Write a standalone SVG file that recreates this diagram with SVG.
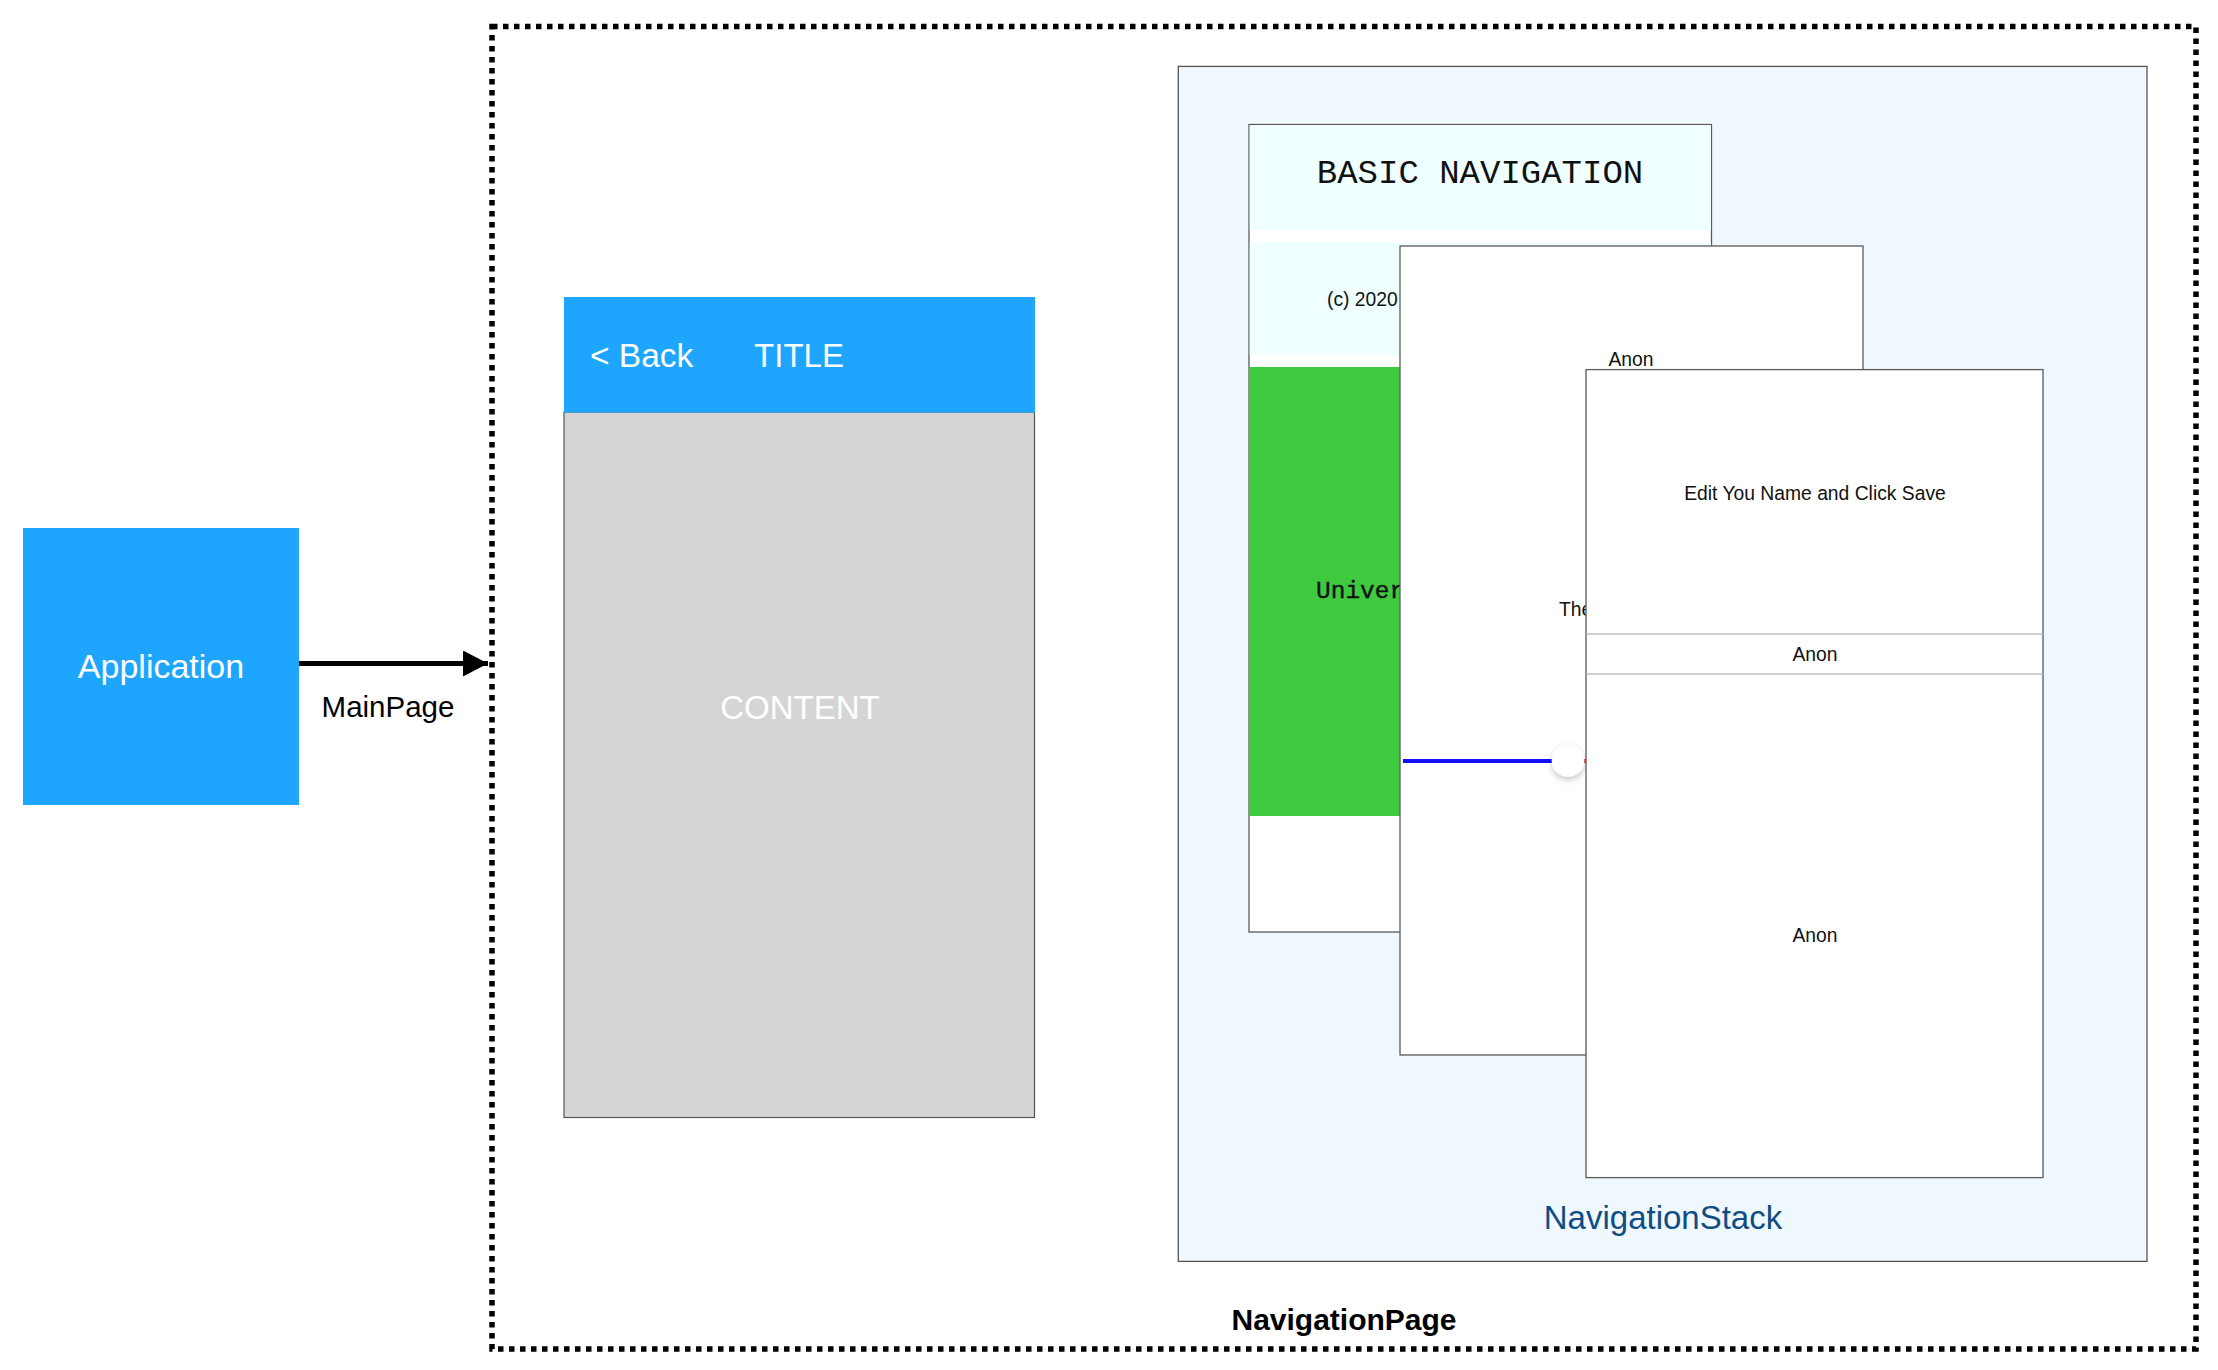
<svg xmlns="http://www.w3.org/2000/svg" width="2218" height="1370" viewBox="0 0 2218 1370">
<style>
.sans{font-family:"Liberation Sans",Arial,Helvetica,sans-serif}
.mono{font-family:"Liberation Mono","Courier New",monospace}
.card{fill:#ffffff;stroke:#5a5a5a;stroke-width:1.3}
.wt{fill:#ffffff}
.small{font-size:19.3px;fill:#111111}
</style>
<defs>
<marker id="arrow" markerWidth="5" markerHeight="5.2" refX="5" refY="2.6" orient="auto" markerUnits="strokeWidth">
<path d="M0,0 L5,2.6 L0,5.2 Z" fill="#000000"/>
</marker>
<filter id="shadow" x="-50%" y="-50%" width="200%" height="200%">
<feDropShadow dx="0" dy="3" stdDeviation="3" flood-color="#000000" flood-opacity="0.22"/>
</filter>
</defs>
<rect width="2218" height="1370" fill="#ffffff"/>

<g id="navigationPage">
<rect x="492" y="26.5" width="1704" height="1322.5" fill="none" stroke="#000000" stroke-width="5.5" stroke-dasharray="5.5 5.5"/>
<text class="sans" x="1344" y="1330" font-size="30" font-weight="bold" text-anchor="middle" fill="#000000">NavigationPage</text>
</g>

<g id="application">
<rect x="23" y="528" width="276" height="277" fill="#1ea5fd"/>
<text class="sans wt" x="161" y="678" font-size="34" text-anchor="middle">Application</text>
</g>

<g id="connectors">
<line x1="299" y1="663.5" x2="488" y2="663.5" stroke="#000000" stroke-width="5" marker-end="url(#arrow)"/>
<text class="sans" x="388" y="717" font-size="29.5" text-anchor="middle" fill="#000000">MainPage</text>
</g>

<g id="page">
<rect x="564" y="412" width="470.5" height="705.5" fill="#d5d5d5" stroke="#555555" stroke-width="1.2"/>
<rect x="564" y="297" width="471" height="115.5" fill="#1ea5fd"/>
<text class="sans wt" x="590" y="367" font-size="33.5">&lt; Back</text>
<text class="sans wt" x="799" y="367" font-size="33" text-anchor="middle">TITLE</text>
<text class="sans wt" x="800" y="719" font-size="33" text-anchor="middle">CONTENT</text>
</g>

<g id="navigationStack">
<rect x="1178.3" y="66.4" width="968.7" height="1195" fill="#f0f8ff" stroke="#555555" stroke-width="1.3"/>
<text class="sans" x="1663" y="1229" font-size="33" text-anchor="middle" fill="#0f4d82">NavigationStack</text>
</g>

<g id="card1">
<rect class="card" x="1249" y="124.5" width="462.5" height="807.5"/>
<rect x="1249.7" y="125.2" width="461.2" height="105" fill="#f0ffff"/>
<rect x="1249.7" y="242.5" width="461.2" height="112.5" fill="#f0ffff"/>
<rect x="1249.7" y="367" width="461.2" height="449" fill="#3dca3f"/>
<text class="mono" x="1480" y="183" font-size="34" text-anchor="middle" fill="#111111">BASIC NAVIGATION</text>
<text class="sans small" x="1327" y="306">(c) 2020</text>
<text class="mono" x="1316" y="598" font-size="24.5" fill="#111111" stroke="#111111" stroke-width="0.4">Univer</text>
</g>

<g id="card2">
<rect class="card" x="1400" y="246" width="463" height="809"/>
<text class="sans small" x="1631" y="366" text-anchor="middle">Anon</text>
<text class="sans small" x="1559" y="616">The</text>
<line x1="1403" y1="761" x2="1552" y2="761" stroke="#1010ff" stroke-width="4"/>
<line x1="1582" y1="761" x2="1587" y2="761" stroke="#ff2020" stroke-width="4"/>
<circle cx="1568" cy="760.5" r="16.3" fill="#ffffff" filter="url(#shadow)"/>
</g>

<g id="card3">
<rect class="card" x="1586" y="369.6" width="457" height="808"/>
<line x1="1586.7" y1="634" x2="2042.3" y2="634" stroke="#d0d0d0" stroke-width="2"/>
<line x1="1586.7" y1="674" x2="2042.3" y2="674" stroke="#d0d0d0" stroke-width="2"/>
<text class="sans small" x="1815" y="500" text-anchor="middle">Edit You Name and Click Save</text>
<text class="sans small" x="1815" y="660.5" text-anchor="middle">Anon</text>
<text class="sans small" x="1815" y="942" text-anchor="middle">Anon</text>
</g>
</svg>
